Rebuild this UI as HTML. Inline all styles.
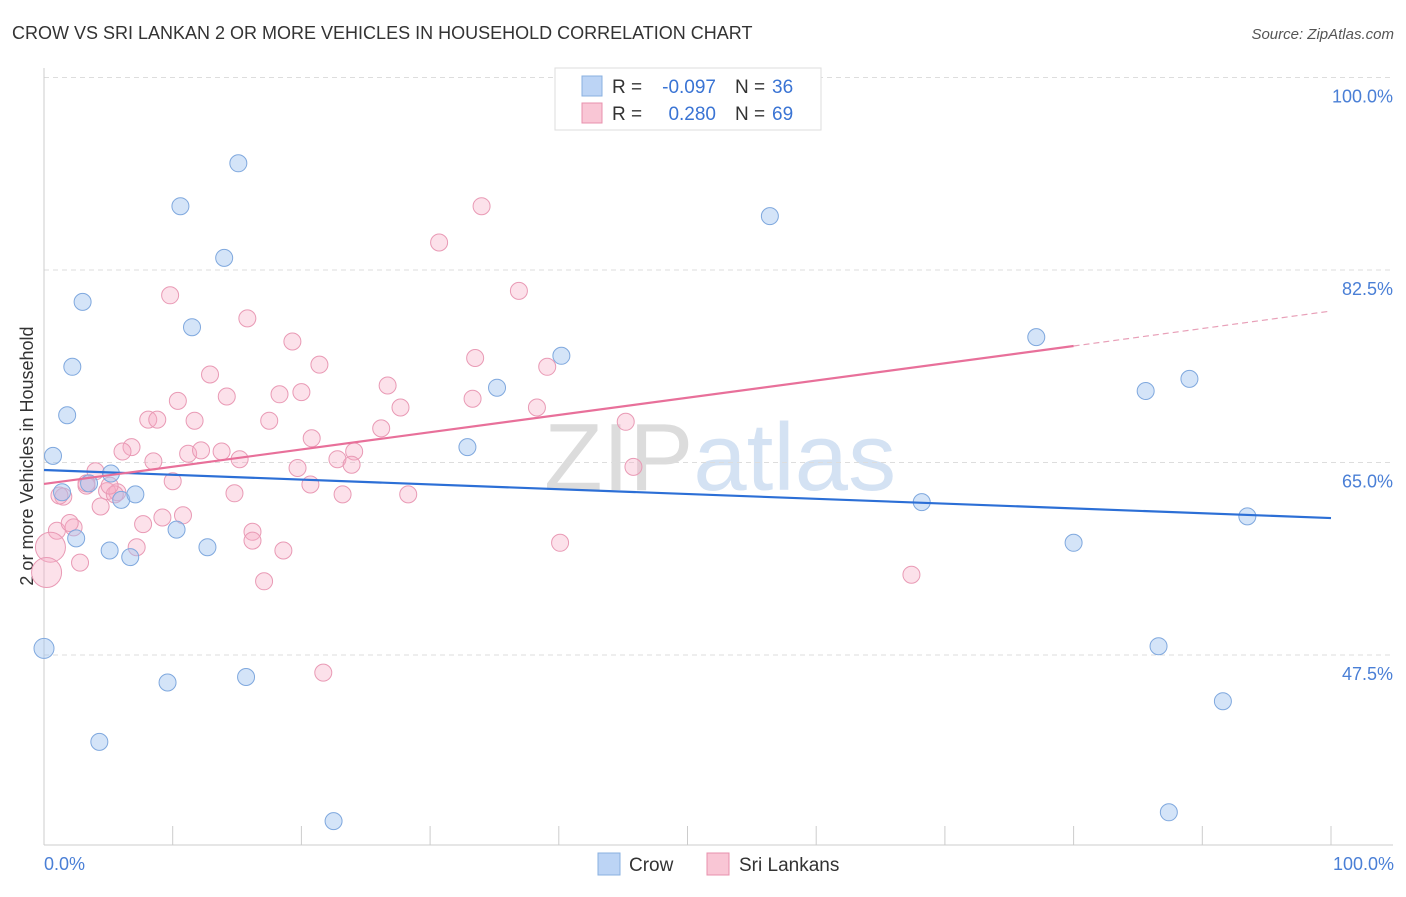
<!DOCTYPE html>
<html><head><meta charset="utf-8"><style>
body{margin:0;background:#fff;font-family:"Liberation Sans",sans-serif}
svg text{font-family:"Liberation Sans",sans-serif}
</style></head><body>
<svg width="1406" height="892" id="chart">
<text x="12" y="39" font-size="18" fill="#333">CROW VS SRI LANKAN 2 OR MORE VEHICLES IN HOUSEHOLD CORRELATION CHART</text>
<text x="1394" y="39" font-size="15" fill="#555" font-style="italic" text-anchor="end">Source: ZipAtlas.com</text>
<text x="720" y="490" font-size="96" fill="#e6e6e6" text-anchor="middle" font-family="Liberation Serif"><tspan fill="#dcdcdc">ZIP</tspan><tspan fill="#d4e2f3" font-family="Liberation Sans">atlas</tspan></text>
<g id="grid"></g>
<line x1="44" y1="68" x2="44" y2="845" stroke="#ccc"/>
<line x1="44" y1="845" x2="1393" y2="845" stroke="#ccc"/>
<g id="xticks"></g>
<text x="44" y="870" font-size="18" fill="#4a7fd6">0.0%</text>
<text x="1394" y="870" font-size="18" fill="#4a7fd6" text-anchor="end">100.0%</text>
<text transform="translate(33,456) rotate(-90)" font-size="18" fill="#333" text-anchor="middle">2 or more Vehicles in Household</text>
<g id="pts"></g>
<g id="lines"></g>
<g>
<rect x="555" y="68" width="266" height="62" fill="#fff" stroke="#ddd"/>
<rect x="582" y="76" width="20" height="20" fill="#bcd4f5" stroke="#8ab0e0"/>
<rect x="582" y="103" width="20" height="20" fill="#f9c6d5" stroke="#e890ad"/>
<text x="612" y="93" font-size="19" fill="#333">R =</text>
<text x="716" y="93" font-size="19" fill="#3a74d4" text-anchor="end">-0.097</text>
<text x="735" y="93" font-size="19" fill="#333">N =</text>
<text x="772" y="93" font-size="19" fill="#3a74d4">36</text>
<text x="612" y="120" font-size="19" fill="#333">R =</text>
<text x="716" y="120" font-size="19" fill="#3a74d4" text-anchor="end">0.280</text>
<text x="735" y="120" font-size="19" fill="#333">N =</text>
<text x="772" y="120" font-size="19" fill="#3a74d4">69</text>
</g>
<g><rect x="598" y="853" width="22" height="22" fill="#bcd4f5" stroke="#8ab0e0"/><text x="629" y="871" font-size="19" fill="#333">Crow</text></g>
<g><rect x="707" y="853" width="22" height="22" fill="#f9c6d5" stroke="#e890ad"/><text x="739" y="871" font-size="19" fill="#333">Sri Lankans</text></g>
</svg>
<script>
const yTicks=[100,82.5,65,47.5];
const yTickLabels=["100.0%","82.5%","65.0%","47.5%"];
const crowX=[15.1,10.6,14.0,3.0,11.5,2.2,1.8,0.7,1.4,3.5,5.2,6.0,7.1,2.5,5.1,6.7,10.3,12.7,9.6,15.7,4.3,0,22.5,40.2,35.2,32.9,56.4,77.1,85.6,89.0,68.2,80.0,93.5,86.6,91.6,87.4];
const crowY=[92.2,88.3,83.6,79.6,77.3,73.7,69.3,65.6,62.3,63.1,64.0,61.6,62.1,58.1,57.0,56.4,58.9,57.3,45.0,45.5,39.6,48.1,32.4,74.7,71.8,66.4,87.4,76.4,71.5,72.6,61.4,57.7,60.1,48.3,43.3,33.2];
const sriX=[34.0,30.7,36.9,9.8,15.8,19.3,21.4,33.5,39.1,12.9,26.7,18.3,20.0,10.4,14.2,27.7,33.3,38.3,8.1,8.8,11.7,17.5,26.2,45.2,20.8,6.8,6.1,11.2,12.2,13.8,15.2,8.5,24.1,22.8,23.9,19.7,45.8,4.0,10.0,3.3,20.7,4.9,5.7,14.8,23.2,28.3,1.5,4.4,10.8,9.2,7.7,2.3,1.0,16.2,16.2,7.2,0.5,18.6,2.8,40.1,17.1,67.4,21.7,0.2,2.0,5.5,1.2,5.1,3.3];
const sriY=[88.3,85.0,80.6,80.2,78.1,76.0,73.9,74.5,73.7,73.0,72.0,71.2,71.4,70.6,71.0,70.0,70.8,70.0,68.9,68.9,68.8,68.8,68.1,68.7,67.2,66.4,66.0,65.8,66.1,66.0,65.3,65.1,66.0,65.3,64.8,64.5,64.6,64.2,63.3,62.9,63.0,62.4,62.3,62.2,62.1,62.1,61.9,61.0,60.2,60.0,59.4,59.1,58.8,58.7,57.9,57.3,57.3,57.0,55.9,57.7,54.2,54.8,45.9,55.0,59.5,62.1,62.0,62.9,63.1];
const crowTrend=[64.32,59.95];
const sriTrend=[63.05,75.59,78.77];
const sx=v=>44+v*12.87, sy=v=>77.5+(100-v)*11;
const NS="http://www.w3.org/2000/svg";
function mk(t,a,p){const e=document.createElementNS(NS,t);for(const k in a)e.setAttribute(k,a[k]);p.appendChild(e);return e;}
const grid=document.getElementById('grid');
yTicks.forEach((t,i)=>{
 const l=mk('line',{x1:44,x2:1393,y1:sy(t),y2:sy(t),stroke:'#ddd','stroke-dasharray':'5,4'},grid);
 
 
 const tx=mk('text',{x:1393,y:sy(t)+25,'font-size':18,fill:'#4a7fd6','text-anchor':'end'},grid);
 tx.textContent=yTickLabels[i];
 
 
});
const xt=document.getElementById('xticks');
for(let i=0;i<=10;i++){
 const l=mk('line',{x1:sx(i*10),x2:sx(i*10),y1:826,y2:845,stroke:'#ccc'},xt);
 
 
}
const pts=document.getElementById('pts');
sriX.forEach((x,i)=>{
 const c=mk('circle',{cx:sx(x),cy:sy(sriY[i]),r:(i==56||i==63)?15:8.5,fill:'rgba(245,170,195,0.35)',stroke:'#e99ab5','stroke-width':1},pts);
 
 
});
crowX.forEach((x,i)=>{
 const c=mk('circle',{cx:sx(x),cy:sy(crowY[i]),r:(i==21)?10:8.5,fill:'rgba(160,195,240,0.45)',stroke:'#7fa8de','stroke-width':1},pts);
 
 
});
const ln=document.getElementById('lines');
const b=mk('line',{x1:sx(0),y1:sy(crowTrend[0]),x2:sx(100),y2:sy(crowTrend[1]),stroke:'#2c6fd6','stroke-width':2.2},ln);


const p=mk('line',{x1:sx(0),y1:sy(sriTrend[0]),x2:sx(80),y2:sy(sriTrend[1]),stroke:'#e8709a','stroke-width':2.2},ln);


const pd=mk('line',{x1:sx(80),y1:sy(sriTrend[1]),x2:sx(100),y2:sy(sriTrend[2]),stroke:'#e8a0b8','stroke-width':1.2,'stroke-dasharray':'6,4'},ln);


</script>
</body></html>
